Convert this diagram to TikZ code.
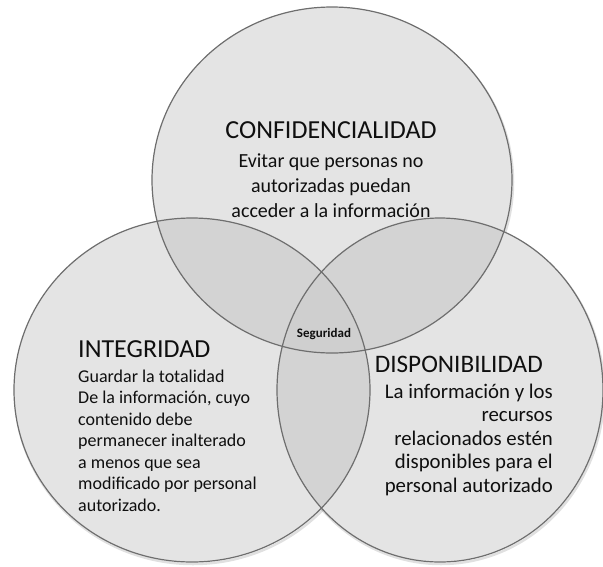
\documentclass[tikz,border=0pt]{standalone}
\usepackage{fontspec}
\setmainfont{Carlito}
\definecolor{cfill}{HTML}{E4E4E4}
\definecolor{cpair}{HTML}{D3D3D3}
\definecolor{ctrip}{HTML}{CFCFCF}
\definecolor{cedge}{HTML}{6E6E6E}
\definecolor{ctext}{HTML}{0F0F0F}
\tikzset{
  ttl/.style={inner sep=0pt, text=ctext, font=\fontsize{26}{30}\selectfont},
  bodyA/.style={inner sep=0pt, text=ctext, font=\fontsize{20}{24}\selectfont},
  bodyC/.style={inner sep=0pt, text=ctext, font=\fontsize{20.8}{24}\selectfont},
  bodyB/.style={inner sep=0pt, text=ctext, font=\fontsize{18}{22}\selectfont},
  edge/.style={draw=cedge, line width=1.2pt},
  shade/.style={draw=black, opacity=0.12, line width=2.5pt}
}
\begin{document}
\begin{tikzpicture}[x=1pt,y=-1pt]
\useasboundingbox (0,0) rectangle (603,566);
\def\Ct{(332,180) ellipse [x radius=180, y radius=173]}
\def\Cl{(192,390) ellipse [x radius=178, y radius=172]}
\def\Cr{(440,390) ellipse [x radius=163, y radius=172]}
% shadows
\path[shade] (333,182) ellipse [x radius=180, y radius=173];
\path[shade] (193,392) ellipse [x radius=178, y radius=172];
\path[shade] (441,392) ellipse [x radius=163, y radius=172];
% fills
\fill[cfill] \Ct;
\fill[cfill] \Cl;
\fill[cfill] \Cr;
\begin{scope}\clip \Ct; \fill[cpair] \Cl; \fill[cpair] \Cr; \end{scope}
\begin{scope}\clip \Cl; \fill[cpair] \Cr; \end{scope}
\begin{scope}\clip \Ct; \clip \Cl; \fill[ctrip] \Cr; \end{scope}
% outlines
\draw[edge] \Ct;
\draw[edge] \Cl;
\draw[edge] \Cr;
% top texts
\node[ttl, anchor=base] (tconf) at (331,138) {CONFIDENCIALIDAD};
\node[bodyA, anchor=base] (tc1) at (331,167) {Evitar que personas no};
\node[bodyA, anchor=base] (tc2) at (331,192) {autorizadas puedan};
\node[bodyA, anchor=base] (tc3) at (331,217) {acceder a la información};
% center
\node[inner sep=0pt, text=ctext, font=\fontsize{13}{15}\selectfont\bfseries, anchor=base] (seg) at (324,337) {Seguridad};
% left texts
\node[ttl, anchor=base west] (tint) at (78,357) {INTEGRIDAD};
\node[bodyB, anchor=base west] (ti1) at (78,382) {Guardar la totalidad};
\node[bodyB, anchor=base west] (ti2) at (78,403.5) {De la información, cuyo};
\node[bodyB, anchor=base west] (ti3) at (78,425) {contenido debe};
\node[bodyB, anchor=base west] (ti4) at (78,446.5) {permanecer inalterado};
\node[bodyB, anchor=base west] (ti5) at (78,468) {a menos que sea};
\node[bodyB, anchor=base west] (ti6) at (78,489.5) {modificado por personal};
\node[bodyB, anchor=base west] (ti7) at (78,511) {autorizado.};
% right texts
\node[ttl, anchor=base east, font=\fontsize{25.2}{30}\selectfont] (tdis) at (543,372) {DISPONIBILIDAD};
\node[bodyC, anchor=base east] (td1) at (553,398) {La información y los};
\node[bodyC, anchor=base east] (td2) at (553,421.5) {recursos};
\node[bodyC, anchor=base east] (td3) at (553,445) {relacionados estén};
\node[bodyC, anchor=base east] (td4) at (553,468.5) {disponibles para el};
\node[bodyC, anchor=base east] (td5) at (553,492) {personal autorizado};
\end{tikzpicture}
\end{document}
